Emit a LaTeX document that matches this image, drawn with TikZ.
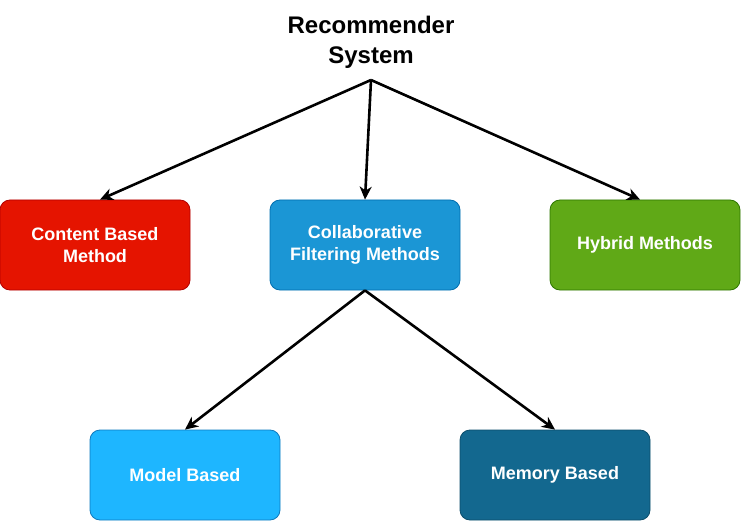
\documentclass[tikz,border=0pt]{standalone}
\usepackage{fontspec}
\setmainfont{Liberation Sans}
\usetikzlibrary{arrows.meta}

\definecolor{contentfill}{HTML}{E51400}
\definecolor{contentline}{HTML}{B20000}
\definecolor{collabfill}{HTML}{1B96D5}
\definecolor{collabline}{HTML}{006EAF}
\definecolor{hybridfill}{HTML}{60A917}
\definecolor{hybridline}{HTML}{2D7600}
\definecolor{modelfill}{HTML}{1EB6FF}
\definecolor{modelline}{HTML}{0E7ABF}
\definecolor{memoryfill}{HTML}{13688F}
\definecolor{memoryline}{HTML}{0B4D6B}

\begin{document}
\begin{tikzpicture}[x=1pt, y=-1pt,
    method/.style={rectangle, rounded corners=10pt, line width=0.8pt,
      minimum width=190pt, minimum height=90pt, align=center,
      text=white, font=\fontsize{18}{22}\selectfont\bfseries},
    link/.style={line width=2.6pt, -{Stealth[length=13pt, width=12pt, inset=4pt]}}]
    \useasboundingbox (0,0) rectangle (741,521);

    % root label
    \node[align=center, anchor=south, inner sep=0pt,
          font=\fontsize{24}{30}\selectfont\bfseries] (rec) at (371,80)
          {Recommender\\System\\[-14pt]\mbox{}};

    % first level
    \node[method, fill=contentfill, draw=contentline] (content) at (95,245)
          {Content Based\\Method};
    \node[method, fill=collabfill, draw=collabline] (collab) at (365,245)
          {Collaborative\\Filtering Methods};
    \node[method, fill=hybridfill, draw=hybridline] (hybrid) at (645,245)
          {Hybrid Methods};

    % second level
    \node[method, fill=modelfill, draw=modelline] (model) at (185,475)
          {Model Based};
    \node[method, fill=memoryfill, draw=memoryline] (memory) at (555,475)
          {Memory Based};

    % connectors
    \draw[link] (rec.south) -- ([xshift=5pt]content.north);
    \draw[link] (rec.south) -- (collab.north);
    \draw[link] (rec.south) -- ([xshift=-5pt]hybrid.north);
    \draw[link] (collab.south) -- (model.north);
    \draw[link] (collab.south) -- (memory.north);
\end{tikzpicture}
\end{document}
